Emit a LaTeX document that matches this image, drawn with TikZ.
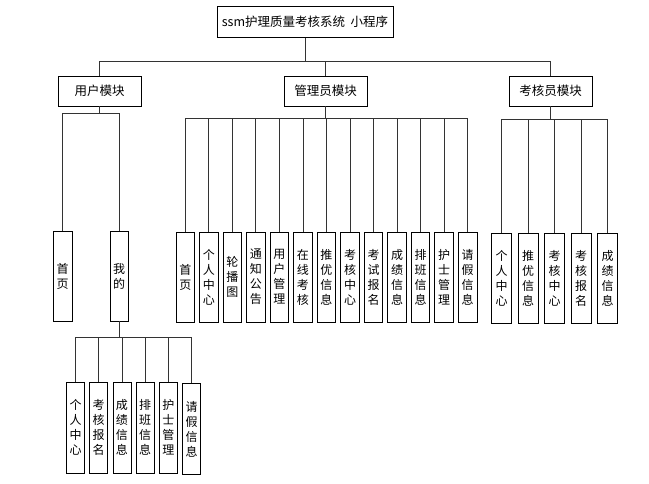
\documentclass[tikz,border=0pt]{standalone}
\usepackage{fontspec}
\setmainfont{Noto Sans CJK SC}
\begin{document}
\begin{tikzpicture}[x=1pt,y=-1pt,
  box/.style={draw=black,line width=0.8pt,fill=white,inner sep=0pt,align=center,font=\fontsize{12}{15}\selectfont},
  hbox/.style={box,font=\fontsize{12.5}{15}\selectfont},
  vbox/.style={box,minimum width=18.5pt,minimum height=90pt},
  link/.style={draw=black!80,line width=0.8pt}]
\useasboundingbox (0,0) rectangle (649,484);
\node[hbox,minimum width=176pt,minimum height=31pt] (top) at (305,22) {ssm护理质量考核系统~~小程序};
\node[hbox,minimum width=83pt,minimum height=30pt] (user) at (99.5,91) {用户模块};
\node[hbox,minimum width=83pt,minimum height=30pt] (admin) at (325.5,91) {管理员模块};
\node[hbox,minimum width=83pt,minimum height=30pt] (exam) at (550.5,91) {考核员模块};
\foreach \c in {user,admin,exam}
  \draw[link] (top.south) -- ++(0,23.5) -| (\c.north);
% user children
\node[vbox,minimum width=19pt] (u1) at (62.5,276) {首\\页};
\node[vbox,minimum width=18pt] (u2) at (119,276) {我\\的};
\foreach \c in {u1,u2}
  \draw[link] (user.south) -- ++(0,7) -| (\c.north);
% admin children
\foreach [count=\i from 0] \t/\n in {{首\\页}/a1,{个\\人\\中\\心}/a2,{轮\\播\\图}/a3,{通\\知\\公\\告}/a4,{用\\户\\管\\理}/a5,{在\\线\\考\\核}/a6,{推\\优\\信\\息}/a7,{考\\核\\中\\心}/a8,{考\\试\\报\\名}/a9,{成\\绩\\信\\息}/a10,{排\\班\\信\\息}/a11,{护\\士\\管\\理}/a12,{请\\假\\信\\息}/a13}{
  \node[vbox] (\n) at ({185.3+\i*23.53},277) {\t};
  \draw[link] (admin.south) -- ++(0,12) -| (\n.north);
}
% exam children
\foreach [count=\i from 0] \t/\n in {{个\\人\\中\\心}/e1,{推\\优\\信\\息}/e2,{考\\核\\中\\心}/e3,{考\\核\\报\\名}/e4,{成\\绩\\信\\息}/e5}{
  \node[vbox,minimum width=20pt] (\n) at ({501.7+\i*26.5},278) {\t};
  \draw[link] (exam.south) -- ++(0,13) -| (\n.north);
}
% my children
\foreach [count=\i from 0] \t/\n in {{个\\人\\中\\心}/m1,{考\\核\\报\\名}/m2,{成\\绩\\信\\息}/m3,{排\\班\\信\\息}/m4,{护\\士\\管\\理}/m5}{
  \node[vbox,minimum width=18pt,minimum height=91pt] (\n) at ({75.5+\i*23.2},427.5) {\t};
  \draw[link] (u2.south) -- ++(0,16) -| (\n.north);
}
\node[vbox,minimum width=18pt,minimum height=91pt] (m6) at (191.5,429) {请\\假\\信\\息};
\draw[link] (u2.south) -- ++(0,16) -| (m6.north);
\end{tikzpicture}
\end{document}
